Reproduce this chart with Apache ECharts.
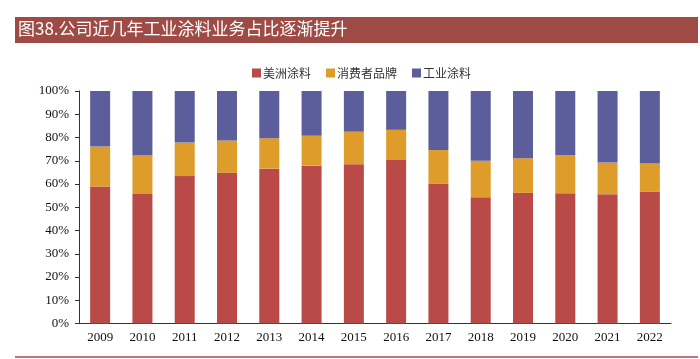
<!DOCTYPE html>
<html><head><meta charset="utf-8">
<script src="https://cdn.jsdelivr.net/npm/echarts@6/dist/echarts.min.js"></script>
<style>html,body{margin:0;padding:0;background:#fff}#c{width:700px;height:359px}</style>
</head><body><div id="c"></div>
<script>
const categories = ['2009','2010','2011','2012','2013','2014','2015','2016','2017','2018','2019','2020','2021','2022'];
const americasCoatings = [58.9, 55.7, 63.4, 64.9, 66.6, 67.9, 68.5, 70.3, 60.2, 54.3, 56.2, 56.0, 55.6, 56.6];
const consumerBrands = [17.2, 16.7, 14.4, 13.8, 13.1, 12.8, 14.0, 13.0, 14.4, 15.7, 14.9, 16.5, 13.6, 12.2];
const industrialCoatings = [23.9, 27.6, 22.2, 21.3, 20.3, 19.3, 17.5, 16.7, 25.4, 30.0, 28.9, 27.5, 30.8, 31.2];
const seriesNames = ['美洲涂料', '消费者品牌', '工业涂料'];
const colors = ['#B94A48', '#DE9C2A', '#5B5E9A'];
const titleText = '图38.公司近几年工业涂料业务占比逐渐提升';

const chart = echarts.init(document.getElementById('c'));
const serif = '"Liberation Serif", "Times New Roman", serif';
const cjk = '"Noto Sans CJK SC", sans-serif';
chart.setOption({
  animation: false,
  color: colors,
  graphic: [
    { type: 'rect', left: 15, top: 17, shape: { width: 683, height: 26 }, style: { fill: '#9E4B45' } },
    { type: 'text', left: 18, top: 20, style: { text: titleText, fill: '#fff', font: '17px ' + cjk } },
    { type: 'line', shape: { x1: 15, y1: 357, x2: 698, y2: 357 }, style: { stroke: '#A44A44', lineWidth: 1.5 } }
  ],
  legend: {
    top: 62, left: 247, itemWidth: 9, itemHeight: 9, itemGap: 15,
    icon: 'rect',
    textStyle: { fontFamily: cjk, fontSize: 12, color: '#333', padding: [0, 0, 0, -3] },
    data: seriesNames
  },
  grid: { left: 79, right: 29, top: 91, bottom: 35.5 },
  xAxis: {
    type: 'category', data: categories,
    axisLine: { lineStyle: { color: '#333' } },
    axisTick: { lineStyle: { color: '#333' }, length: 4 },
    axisLabel: { fontFamily: serif, fontSize: 13, color: '#111', margin: 8 }
  },
  yAxis: {
    type: 'value', min: 0, max: 100, interval: 10,
    splitLine: { show: false },
    axisLine: { show: true, lineStyle: { color: '#333' } },
    axisTick: { show: true, lineStyle: { color: '#333' }, length: 4 },
    axisLabel: { formatter: '{value}%', fontFamily: serif, fontSize: 13, color: '#111', margin: 10 }
  },
  series: [
    { name: seriesNames[0], type: 'bar', stack: 's', data: americasCoatings, barWidth: 20 },
    { name: seriesNames[1], type: 'bar', stack: 's', data: consumerBrands, barWidth: 20 },
    { name: seriesNames[2], type: 'bar', stack: 's', data: industrialCoatings, barWidth: 20 }
  ]
});
</script></body></html>
